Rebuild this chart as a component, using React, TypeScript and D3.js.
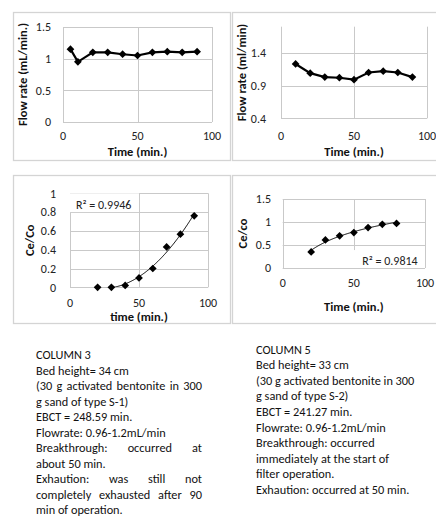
import React, { useEffect, useRef } from "react";
import * as d3 from "d3";

// flow rate, column 3
const flowTime3 = [5, 10, 20, 30, 40, 50, 60, 70, 80, 90];
const flowRate3 = [1.15, 0.95, 1.1, 1.1, 1.07, 1.05, 1.1, 1.11, 1.1, 1.11];
// flow rate, column 5
const flowTime5 = [10, 20, 30, 40, 50, 60, 70, 80, 90];
const flowRate5 = [1.23, 1.09, 1.03, 1.02, 0.99, 1.1, 1.12, 1.1, 1.03];
// breakthrough, column 3
const ceTime3 = [20, 30, 40, 50, 60, 70, 80, 90];
const ceRatio3 = [0, 0, 0.02, 0.1, 0.2, 0.43, 0.565, 0.76];
// breakthrough, column 5
const ceTime5 = [20, 30, 40, 50, 60, 70, 80];
const ceRatio5 = [0.35, 0.61, 0.7, 0.77, 0.88, 0.95, 0.97];

const xTicks = [0, 50, 100];
const yTicksFlow3 = [0, 0.5, 1, 1.5];
const yTicksFlow5 = [0.4, 0.9, 1.4];
const yTicksCe3 = [0, 0.2, 0.4, 0.6, 0.8, 1];
const yTicksCe5 = [0, 0.5, 1, 1.5];

const r2Col3 = "R² = 0.9946";
const r2Col5 = "R² = 0.9814";

const column3Lines = [
  "COLUMN 3",
  "Bed height= 34 cm",
  "(30 g activated bentonite in 300",
  "g sand of type S-1)",
  "EBCT = 248.59 min.",
  "Flowrate: 0.96-1.2mL/min",
  "Breakthrough: occurred at",
  "about 50 min.",
  "Exhaution: was still not",
  "completely exhausted after 90",
  "min of operation.",
];
const column3Justify = [false, false, true, false, false, false, true, false, true, true, false];
const column5Lines = [
  "COLUMN 5",
  "Bed height= 33 cm",
  "(30 g activated bentonite in 300",
  "g sand of type S-2)",
  "EBCT = 241.27 min.",
  "Flowrate: 0.96-1.2mL/min",
  "Breakthrough: occurred",
  "immediately at the start of",
  "filter operation.",
  "Exhaution: occurred at 50 min.",
];

const FONT = "Carlito, Calibri, Lato, 'Open Sans', sans-serif";
const GRID = "#c9c9c9";
const TICK_SIZE = 12;
const TITLE_SIZE = 12.5;

function fitQuadratic(xs, ys) {
  // least squares y = a + b x + c x^2
  const n = xs.length;
  let s = [0, 0, 0, 0, 0], t = [0, 0, 0];
  for (let i = 0; i < n; i++) {
    const x = xs[i], y = ys[i];
    for (let k = 0; k < 5; k++) s[k] += Math.pow(x, k);
    for (let k = 0; k < 3; k++) t[k] += y * Math.pow(x, k);
  }
  const A = [
    [s[0], s[1], s[2], t[0]],
    [s[1], s[2], s[3], t[1]],
    [s[2], s[3], s[4], t[2]],
  ];
  for (let i = 0; i < 3; i++) {
    for (let j = i + 1; j < 3; j++) {
      const f = A[j][i] / A[i][i];
      for (let k = i; k < 4; k++) A[j][k] -= f * A[i][k];
    }
  }
  const c = [0, 0, 0];
  for (let i = 2; i >= 0; i--) {
    let v = A[i][3];
    for (let k = i + 1; k < 3; k++) v -= A[i][k] * c[k];
    c[i] = v / A[i][i];
  }
  return (x) => c[0] + c[1] * x + c[2] * x * x;
}

function fitLog(xs, ys) {
  const lx = xs.map(Math.log);
  const mx = d3.mean(lx), my = d3.mean(ys);
  let num = 0, den = 0;
  lx.forEach((v, i) => { num += (v - mx) * (ys[i] - my); den += (v - mx) ** 2; });
  const a = num / den, b = my - a * mx;
  return (x) => a * Math.log(x) + b;
}

const panels = [
  {
    id: "p1", frame: [13, 12, 217, 148], plot: [63, 212, 27, 122],
    yDomain: [0, 1.5], yTicks: yTicksFlow3, xs: flowTime3, ys: flowRate3, line: true,
    yTitle: "Flow rate (mL/min.)", yTitleX: 23, xTitle: "Time (min.)",
    yLabelX: 51, xLabelY: 136, xTitleY: 151.5,
  },
  {
    id: "p2", frame: [232, 12, 210, 148], plot: [281, 427, 26.7, 118.3],
    yDomain: [0.4, 1.8], yTicks: yTicksFlow5, xs: flowTime5, ys: flowRate5, line: true,
    yTitle: "Flow rate (ml/min)", yTitleX: 242, xTitle: "Time (min.)",
    yLabelX: 266, xLabelY: 136, xTitleY: 151.5,
  },
  {
    id: "p3", frame: [13, 175, 217, 148], plot: [70, 208, 193.3, 287.3],
    yDomain: [0, 1], yTicks: yTicksCe3, xs: ceTime3, ys: ceRatio3, trend: "quad",
    yTitle: "Ce/Co", yTitleX: 30, xTitle: "time (min.)",
    yLabelX: 56, xLabelY: 302.5, xTitleY: 317,
    r2: r2Col3, r2Box: [0, 50, 1, 0.8], r2Anchor: "start", r2X: 76, r2Y: 205,
  },
  {
    id: "p4", frame: [232, 175, 210, 148], plot: [282.7, 425, 199, 268],
    yDomain: [0, 1.5], yTicks: yTicksCe5, xs: ceTime5, ys: ceRatio5, trend: "log",
    yTitle: "Ce/co", yTitleX: 243, xTitle: "Time (min.)",
    yLabelX: 271, xLabelY: 283, xTitleY: 306.5,
    r2: r2Col5, r2Box: [49.5, 98.5, 0.39, 0], r2Anchor: "middle", r2X: 390, r2Y: 260.5,
  },
];

function drawPanel(svg, p) {
  const [fx, fy, fw, fh] = p.frame;
  const [px0, px1, py0, py1] = p.plot;
  const x = d3.scaleLinear().domain([0, 100]).range([px0, px1]);
  const y = d3.scaleLinear().domain(p.yDomain).range([py1, py0]);
  const g = svg.append("g");

  g.append("rect").attr("x", fx + 0.5).attr("y", fy + 0.5).attr("width", fw).attr("height", fh)
    .attr("fill", "white").attr("stroke", "#d4d4d4").attr("stroke-width", 1.3);

  g.selectAll(".hgrid").data(p.yTicks).join("line")
    .attr("x1", px0).attr("x2", px1)
    .attr("y1", (d) => Math.round(y(d)) + 0.5).attr("y2", (d) => Math.round(y(d)) + 0.5)
    .attr("stroke", GRID);
  g.selectAll(".vgrid").data(xTicks).join("line")
    .attr("x1", (d) => Math.round(x(d)) + 0.5).attr("x2", (d) => Math.round(x(d)) + 0.5)
    .attr("y1", py0).attr("y2", py1)
    .attr("stroke", GRID);

  g.selectAll(".ylab").data(p.yTicks).join("text")
    .attr("x", p.yLabelX).attr("y", (d) => y(d)).attr("dy", "0.35em")
    .attr("text-anchor", "end").attr("font-size", TICK_SIZE).attr("font-family", FONT).attr("fill", "#222")
    .text((d) => d3.format("")(d));
  g.selectAll(".xlab").data(xTicks).join("text")
    .attr("x", (d) => x(d)).attr("y", p.xLabelY).attr("dy", "0.35em")
    .attr("text-anchor", "middle").attr("font-size", TICK_SIZE).attr("font-family", FONT).attr("fill", "#222")
    .text((d) => d);

  g.append("text").attr("x", (px0 + px1) / 2).attr("y", p.xTitleY).attr("dy", "0.35em")
    .attr("text-anchor", "middle").attr("font-size", TITLE_SIZE).attr("font-weight", "bold")
    .attr("font-family", FONT).attr("fill", "#111").text(p.xTitle);
  g.append("text").attr("transform", `translate(${p.yTitleX},${(py0 + py1) / 2}) rotate(-90)`)
    .attr("dy", "0.35em").attr("text-anchor", "middle").attr("font-size", TITLE_SIZE).attr("font-weight", "bold")
    .attr("font-family", FONT).attr("fill", "#111").text(p.yTitle);

  const pts = p.xs.map((v, i) => [v, p.ys[i]]);

  if (p.line) {
    g.append("path").datum(pts)
      .attr("d", d3.line().x((d) => x(d[0])).y((d) => y(d[1])))
      .attr("fill", "none").attr("stroke", "black").attr("stroke-width", 2.2);
  }

  if (p.trend) {
    const f = p.trend === "quad" ? fitQuadratic(p.xs, p.ys) : fitLog(p.xs, p.ys);
    const [a, b] = d3.extent(p.xs);
    const tx = d3.range(a, b + 0.01, 0.5);
    g.append("clipPath").attr("id", "clip-" + p.id).append("rect")
      .attr("x", px0).attr("y", py0).attr("width", px1 - px0).attr("height", py1 - py0);
    g.append("path").datum(tx.map((v) => [v, f(v)]))
      .attr("clip-path", `url(#clip-${p.id})`)
      .attr("d", d3.line().x((d) => x(d[0])).y((d) => y(d[1])))
      .attr("fill", "none").attr("stroke", "black").attr("stroke-width", 1);
  }

  if (p.r2) {
    const [bx0, bx1, by0, by1] = p.r2Box;
    g.append("rect").attr("x", x(bx0)).attr("y", y(by0))
      .attr("width", x(bx1) - x(bx0)).attr("height", y(by1) - y(by0)).attr("fill", "white");
    g.append("text").attr("x", p.r2X).attr("y", p.r2Y).attr("dy", "0.35em")
      .attr("text-anchor", p.r2Anchor).attr("font-size", TICK_SIZE).attr("font-family", FONT).attr("fill", "#222")
      .text(p.r2);
  }

  const diamond = d3.symbol(d3.symbolSquare, 30);
  g.selectAll(".mark").data(pts).join("path")
    .attr("d", diamond())
    .attr("transform", (d) => `translate(${x(d[0])},${y(d[1])}) rotate(45)`)
    .attr("fill", "black");
}

function drawText(svg, lines, justify, left, right, top, step) {
  const g = svg.append("g").attr("font-family", FONT).attr("font-size", 12.3).attr("fill", "#111");
  lines.forEach((line, i) => {
    const yy = top + i * step;
    if (!justify[i]) {
      g.append("text").attr("x", left).attr("y", yy).attr("dy", "0.35em").text(line);
      return;
    }
    const words = line.split(" ");
    const nodes = words.map((w) => g.append("text").attr("y", yy).attr("dy", "0.35em").text(w));
    const widths = nodes.map((n) => n.node().getComputedTextLength());
    const gap = (right - left - d3.sum(widths)) / (words.length - 1);
    let cx = left;
    nodes.forEach((n, k) => {
      n.attr("x", cx);
      cx += widths[k] + gap;
    });
  });
}

export default function App() {
  const ref = useRef(null);

  useEffect(() => {
    const svg = d3.select(ref.current);
    svg.selectAll("*").remove();
    panels.forEach((p) => drawPanel(svg, p));
    drawText(svg, column3Lines, column3Justify, 36, 202, 355, 15.5);
    drawText(svg, column5Lines, column5Lines.map(() => false), 256, 430, 349.3, 15.6);
  }, []);

  return (
    <svg ref={ref} width={436} height={521}
      style={{ position: "absolute", left: 0, top: 0, background: "white" }} />
  );
}
